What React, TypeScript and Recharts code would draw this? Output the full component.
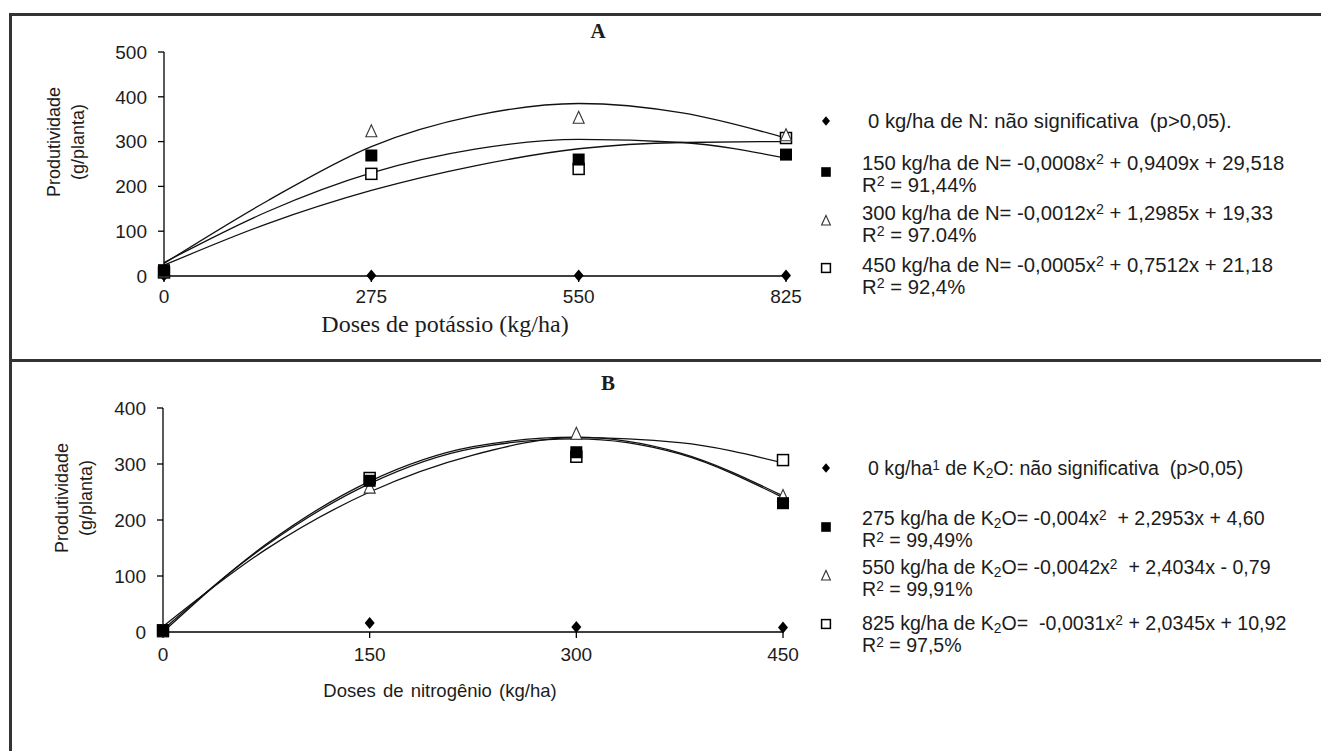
import React from 'react';
import { ComposedChart, Line, XAxis, YAxis } from 'recharts';

// Panel A: potassium doses (x) vs yield, one series per N dose
const potassioDoses = [0, 275, 550, 825];
const aN0 = [1, 1, 1, 1];
const aN150 = [13, 269, 260, 271];
const aN300 = [10, 322, 352, 313];
const aN450 = [8, 228, 239, 308];

// fitted curves in panel A, every 137.5 kg/ha
const aCurveX = [0, 137.5, 275, 412.5, 550, 687.5, 825];
const aFit150 = [30, 144, 230, 283, 305, 298, 263];
const aFit300 = [28, 168, 289, 358, 385, 364, 308];
const aFit450 = [24, 117, 191, 246, 284, 298, 300];

// Panel B: nitrogen doses (x) vs yield, one series per K2O dose
const nitrogenioDoses = [0, 150, 300, 450];
const bK0 = [2, 16, 9, 8];
const bK275 = [2, 270, 321, 230];
const bK550 = [0, 257, 353, 242];
const bK825 = [3, 275, 313, 307];

// fitted curves in panel B, read every 75 kg/ha
const bCurveX = [0, 75, 150, 225, 300, 375, 450];
const bFit275 = [4, 155, 265, 328, 345, 318, 240];
const bFit550 = [0, 157, 269, 331, 348, 320, 243];
const bFit825 = [10, 148, 250, 316, 347, 338, 302];

const yTicksA = [0, 100, 200, 300, 400, 500];
const yTicksB = [0, 100, 200, 300, 400];

const SANS = '"Liberation Sans", Arial, sans-serif';
const SERIF = '"Liberation Serif", "Times New Roman", serif';
const INK = '#1c1c1c';

type Kind = 'diamond' | 'filled' | 'triangle' | 'open';

const rows = (xs: number[], ys: number[]) => xs.map((x, i) => ({ x, y: ys[i] }));

function shape(kind: Kind, cx: number, cy: number, s = 1) {
  if (kind === 'diamond')
    return <polygon points={`${cx},${cy - 6 * s} ${cx + 5 * s},${cy} ${cx},${cy + 6 * s} ${cx - 5 * s},${cy}`} fill="#000" />;
  if (kind === 'filled')
    return <rect x={cx - 6 * s} y={cy - 6 * s} width={12 * s} height={12 * s} fill="#000" />;
  if (kind === 'open')
    return <rect x={cx - 5.5 * s} y={cy - 5.5 * s} width={11 * s} height={11 * s} fill="#fff" stroke="#000" strokeWidth={1.5} />;
  return (
    <polygon
      points={`${cx},${cy - 7 * s} ${cx + 5.5 * s},${cy + 5 * s} ${cx - 5.5 * s},${cy + 5 * s}`}
      fill="#fff"
      stroke="#333"
      strokeWidth={1.1}
    />
  );
}

const dotFor = (kind: Kind) => (p: any) => (
  <g key={`${kind}-${p.index}`}>{shape(kind, p.cx, p.cy)}</g>
);

interface PanelProps {
  width: number;
  height: number;
  margin: { top: number; right: number; left: number; bottom: number };
  yWidth: number;
  xMax: number;
  yMax: number;
  xTicks: number[];
  yTicks: number[];
  curves: { x: number; y: number }[][];
  points: { kind: Kind; data: { x: number; y: number }[] }[];
  tickMarginX: number;
}

function Panel(p: PanelProps) {
  return (
    <ComposedChart width={p.width} height={p.height} margin={p.margin}>
      <XAxis
        type="number"
        dataKey="x"
        domain={[0, p.xMax]}
        ticks={p.xTicks}
        height={44}
        tickSize={6}
        tickMargin={p.tickMarginX}
        axisLine={{ stroke: '#000', strokeWidth: 1.3 }}
        tickLine={{ stroke: '#000', strokeWidth: 1.3 }}
        tick={{ fill: INK, fontSize: 19, fontFamily: SANS }}
      />
      <YAxis
        type="number"
        domain={[0, p.yMax]}
        ticks={p.yTicks}
        width={p.yWidth}
        tickSize={6}
        tickMargin={11}
        axisLine={{ stroke: '#000', strokeWidth: 1.3 }}
        tickLine={{ stroke: '#000', strokeWidth: 1.3 }}
        tick={{ fill: INK, fontSize: 19, fontFamily: SANS }}
      />
      {p.curves.map((c, i) => (
        <Line
          key={`c${i}`}
          data={c}
          dataKey="y"
          type="monotone"
          stroke="#111"
          strokeWidth={1.3}
          dot={false}
          isAnimationActive={false}
        />
      ))}
      {p.points.map((s, i) => (
        <Line
          key={`p${i}`}
          data={s.data}
          dataKey="y"
          stroke="none"
          dot={dotFor(s.kind)}
          isAnimationActive={false}
        />
      ))}
    </ComposedChart>
  );
}

function Txt({ x, y, children, style, align = 'left' }: any) {
  const tx = align === 'center' ? '-50%' : '0';
  return (
    <div
      style={{
        position: 'absolute',
        left: x,
        top: y,
        transform: `translate(${tx}, -50%)`,
        whiteSpace: 'nowrap',
        fontFamily: SANS,
        color: INK,
        ...style,
      }}
    >
      {children}
    </div>
  );
}

function Key({ x, y, kind }: { x: number; y: number; kind: Kind }) {
  return (
    <svg style={{ position: 'absolute', left: x - 8, top: y - 8 }} width={16} height={16}>
      {shape(kind, 8, 8, 0.8)}
    </svg>
  );
}

const sup = { fontSize: '0.7em', verticalAlign: '0.4em', lineHeight: 0 } as const;
const sub = { fontSize: '0.7em', verticalAlign: '-0.2em', lineHeight: 0 } as const;

function YLabel({ x, y }: { x: number; y: number }) {
  return (
    <div
      style={{
        position: 'absolute',
        left: x,
        top: y,
        transform: 'translate(-50%, -50%) rotate(-90deg)',
        fontFamily: SANS,
        fontSize: 18,
        lineHeight: '24px',
        color: INK,
        textAlign: 'center',
        whiteSpace: 'nowrap',
      }}
    >
      Produtividade
      <br />
      (g/planta)
    </div>
  );
}

function Entry({ y, lines, size = 20.3 }: { y: number; lines: React.ReactNode[]; size?: number }) {
  return (
    <div
      style={{
        position: 'absolute',
        left: 862,
        top: y,
        fontFamily: SANS,
        fontSize: size,
        lineHeight: '22px',
        color: INK,
        whiteSpace: 'nowrap',
      }}
    >
      {lines.map((l, i) => (
        <div key={i}>{l}</div>
      ))}
    </div>
  );
}

export default function App() {
  const pointsA = [
    { kind: 'diamond' as Kind, data: rows(potassioDoses, aN0) },
    { kind: 'open' as Kind, data: rows(potassioDoses, aN450) },
    { kind: 'triangle' as Kind, data: rows(potassioDoses, aN300) },
    { kind: 'filled' as Kind, data: rows(potassioDoses, aN150) },
  ];
  const pointsB = [
    { kind: 'open' as Kind, data: rows(nitrogenioDoses, bK825) },
    { kind: 'triangle' as Kind, data: rows(nitrogenioDoses, bK550) },
    { kind: 'filled' as Kind, data: rows(nitrogenioDoses, bK275) },
    { kind: 'diamond' as Kind, data: rows(nitrogenioDoses, bK0) },
  ];

  return (
    <div style={{ position: 'absolute', left: 0, top: 0, width: 1321, height: 751, background: '#fff', overflow: 'hidden' }}>
      {/* frame */}
      <div style={{ position: 'absolute', left: 9, top: 13, width: 1330, height: 760, borderLeft: '3px solid #333', borderTop: '3px solid #333' }} />
      <div style={{ position: 'absolute', left: 9, top: 359, width: 1330, height: 3, background: '#333' }} />

      <div style={{ position: 'absolute', left: 0, top: 0 }}>
        <Panel
          width={820}
          height={320}
          margin={{ top: 52, right: 34, left: 0, bottom: 0 }}
          yWidth={164}
          xMax={825}
          yMax={500}
          xTicks={potassioDoses}
          yTicks={yTicksA}
          tickMarginX={8}
          curves={[rows(aCurveX, aFit150), rows(aCurveX, aFit300), rows(aCurveX, aFit450)]}
          points={pointsA}
        />
      </div>
      <div style={{ position: 'absolute', left: 0, top: 360 }}>
        <Panel
          width={820}
          height={316}
          margin={{ top: 48, right: 37, left: 0, bottom: 0 }}
          yWidth={163}
          xMax={450}
          yMax={400}
          xTicks={nitrogenioDoses}
          yTicks={yTicksB}
          tickMarginX={10}
          curves={[rows(bCurveX, bFit275), rows(bCurveX, bFit550), rows(bCurveX, bFit825)]}
          points={pointsB}
        />
      </div>

      {/* panel A texts */}
      <Txt x={598} y={31} align="center" style={{ fontFamily: SERIF, fontWeight: 'bold', fontSize: 21 }}>A</Txt>
      <Txt x={445} y={324} align="center" style={{ fontFamily: SERIF, fontSize: 24 }}>Doses de potássio (kg/ha)</Txt>
      <YLabel x={66} y={142} />

      <Key x={826} y={121} kind="diamond" />
      <Key x={826} y={172} kind="filled" />
      <Key x={826} y={221} kind="triangle" />
      <Key x={826} y={268} kind="open" />
      <Entry y={110} lines={[<span style={{ marginLeft: 6 }}>0 kg/ha de N: não significativa &nbsp;(p&gt;0,05).</span>]} />
      <Entry y={152} lines={[<span>150 kg/ha de N= -0,0008x<span style={sup}>2</span> + 0,9409x + 29,518</span>, <span>R<span style={sup}>2</span> = 91,44%</span>]} />
      <Entry y={202} lines={[<span>300 kg/ha de N= -0,0012x<span style={sup}>2</span> + 1,2985x + 19,33</span>, <span>R<span style={sup}>2</span> = 97.04%</span>]} />
      <Entry y={254} lines={[<span>450 kg/ha de N= -0,0005x<span style={sup}>2</span> + 0,7512x + 21,18</span>, <span>R<span style={sup}>2</span> = 92,4%</span>]} />

      {/* panel B texts */}
      <Txt x={608} y={383} align="center" style={{ fontFamily: SERIF, fontWeight: 'bold', fontSize: 21 }}>B</Txt>
      <Txt x={440} y={691} align="center" style={{ fontSize: 18.5, wordSpacing: 2 }}>Doses de nitrogênio (kg/ha)</Txt>
      <YLabel x={74} y={498} />

      <Key x={826} y={468} kind="diamond" />
      <Key x={826} y={527} kind="filled" />
      <Key x={826} y={576} kind="triangle" />
      <Key x={826} y={624} kind="open" />
      <Entry size={19.6} y={457} lines={[<span style={{ marginLeft: 6 }}>0 kg/ha<span style={sup}>1</span> de K<span style={sub}>2</span>O: não significativa &nbsp;(p&gt;0,05)</span>]} />
      <Entry size={19.6} y={507} lines={[<span>275 kg/ha de K<span style={sub}>2</span>O= -0,004x<span style={sup}>2</span> &nbsp;+ 2,2953x + 4,60</span>, <span>R<span style={sup}>2</span> = 99,49%</span>]} />
      <Entry size={19.6} y={556} lines={[<span>550 kg/ha de K<span style={sub}>2</span>O= -0,0042x<span style={sup}>2</span> &nbsp;+ 2,4034x - 0,79</span>, <span>R<span style={sup}>2</span> = 99,91%</span>]} />
      <Entry size={19.6} y={612} lines={[<span>825 kg/ha de K<span style={sub}>2</span>O= &nbsp;-0,0031x<span style={sup}>2</span> + 2,0345x + 10,92</span>, <span>R<span style={sup}>2</span> = 97,5%</span>]} />
    </div>
  );
}
